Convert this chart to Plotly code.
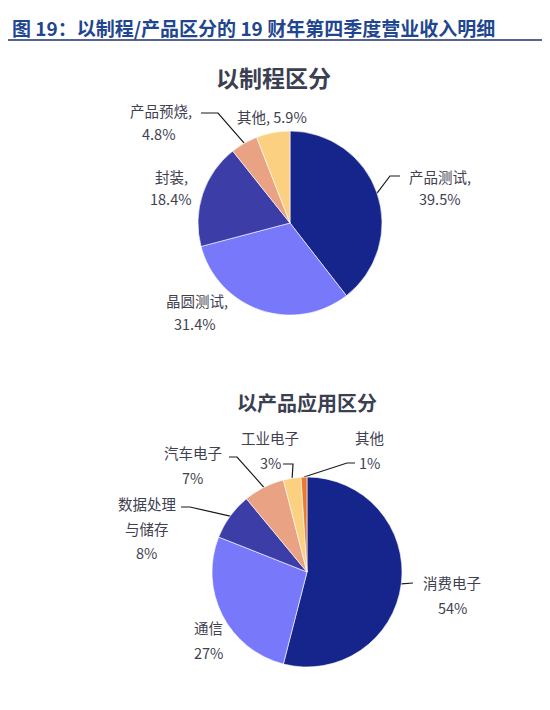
import math
import plotly.graph_objects as go

# data
proc_labels = ["产品测试", "晶圆测试", "封装", "产品预烧", "其他"]
proc_values = [39.5, 31.4, 18.4, 4.8, 5.9]
proc_colors = ["#16258C", "#7878FA", "#3D3DA8", "#E9A283", "#FBD181"]

app_labels = ["消费电子", "通信", "数据处理与储存", "汽车电子", "工业电子", "其他"]
app_values = [54, 27, 8, 7, 3, 1]
app_colors = ["#16258C", "#7878FA", "#3D3DA8", "#E9A283", "#FBD181", "#EC7B2D"]

W, H = 550, 710
OFF = 8  # page body margin
FONT = "Noto Sans CJK SC"
TXT = "#3F4150"

# pie geometry in screen pixels (center x, center y, radius)
P1 = (290, 223, 92)
P2 = (307, 572, 95)


def dom(p):
    cx, cy, r = p
    return dict(x=[(cx - r - OFF) / W, (cx + r - OFF) / W],
                y=[1 - (cy + r - OFF) / H, 1 - (cy - r - OFF) / H])


def edge(vals, p, i):
    cx, cy, r = p
    tot = sum(vals)
    a = (sum(vals[:i]) + vals[i] / 2) / tot * 2 * math.pi
    return cx + r * math.sin(a), cy - r * math.cos(a)


fig = go.Figure()
fig.add_trace(go.Pie(labels=proc_labels, values=proc_values, sort=False, direction="clockwise",
                     marker=dict(colors=proc_colors, line=dict(color="white", width=0.6)),
                     textinfo="none", hoverinfo="label+percent", domain=dom(P1), showlegend=False))
fig.add_trace(go.Pie(labels=app_labels, values=app_values, sort=False, direction="clockwise",
                     marker=dict(colors=app_colors, line=dict(color="white", width=0.6)),
                     textinfo="none", hoverinfo="label+percent", domain=dom(P2), showlegend=False))

# leader lines: (values, pie, slice index, elbow/end points)
leaders = [
    (proc_values, P1, 0, [(390, 176), (400, 176)]),
    (proc_values, P1, 3, [(218, 113), (201, 113)]),
    (app_values, P2, 0, [(413, 583)]),
    (app_values, P2, 2, [(190, 507), (181, 507)]),
    (app_values, P2, 3, [(237, 457), (229, 457)]),
    (app_values, P2, 4, [(293, 464), (283, 464)]),
    (app_values, P2, 5, [(347, 463), (355, 463)]),
]
for vals, p, i, pts in leaders:
    ex, ey = edge(vals, p, i)
    xs = [ex] + [q[0] for q in pts]
    ys = [ey] + [q[1] for q in pts]
    fig.add_trace(go.Scatter(x=xs, y=ys, mode="lines", line=dict(color="#1a1a1a", width=1.2),
                             hoverinfo="skip", showlegend=False))

ann = []


def lab(x, y, text, size=14.5, color=TXT, bold=False):
    if bold:
        text = "<b>" + text + "</b>"
    ann.append(dict(x=x, y=y, xref="x", yref="y", text=text, showarrow=False, xanchor="center",
                    yanchor="middle", font=dict(family=FONT, size=size, color=color)))


# chart 1 labels
lab(440, 176, proc_labels[0] + ",")
lab(440, 198, f"{proc_values[0]}%")
lab(197, 300, proc_labels[1] + ",")
lab(195, 323, f"{proc_values[1]}%")
lab(171, 176, proc_labels[2] + ",")
lab(171, 198, f"{proc_values[2]}%")
lab(161, 110, proc_labels[3] + ",")
lab(158, 133, f"{proc_values[3]}%")
lab(272, 116, f"{proc_labels[4]}, {proc_values[4]}%")

# chart 2 labels
lab(452, 582, app_labels[0])
lab(452, 607, f"{app_values[0]}%")
lab(208, 627, app_labels[1])
lab(208, 652, f"{app_values[1]}%")
lab(147, 503, app_labels[2][:4])
lab(147, 528, app_labels[2][4:])
lab(146, 552, f"{app_values[2]}%")
lab(193, 452, app_labels[3])
lab(192, 477, f"{app_values[3]}%")
lab(270, 437, app_labels[4])
lab(270, 462, f"{app_values[4]}%")
lab(369, 437, app_labels[5])
lab(369, 462, f"{app_values[5]}%")

# titles
lab(273, 77, "以制程区分", size=23, color="#3B3F52", bold=True)
lab(307, 402, "以产品应用区分", size=20, color="#3B3F52", bold=True)
ann.append(dict(x=10, y=27, xref="x", yref="y", text="<b>图 19：以制程/产品区分的 19 财年第四季度营业收入明细</b>",
                showarrow=False, xanchor="left", yanchor="middle",
                font=dict(family=FONT, size=19, color="#1F4690")))

fig.update_layout(
    width=W, height=H, margin=dict(l=0, r=0, t=0, b=0),
    paper_bgcolor="white", plot_bgcolor="white",
    xaxis=dict(range=[OFF, W + OFF], visible=False, fixedrange=True),
    yaxis=dict(range=[H + OFF, OFF], visible=False, fixedrange=True),
    annotations=ann,
    shapes=[dict(type="line", xref="x", yref="y", x0=OFF, x1=W + OFF, y0=40, y1=40,
                 line=dict(color="#1F2F6B", width=1.5))],
)
fig.write_html("out.html")
